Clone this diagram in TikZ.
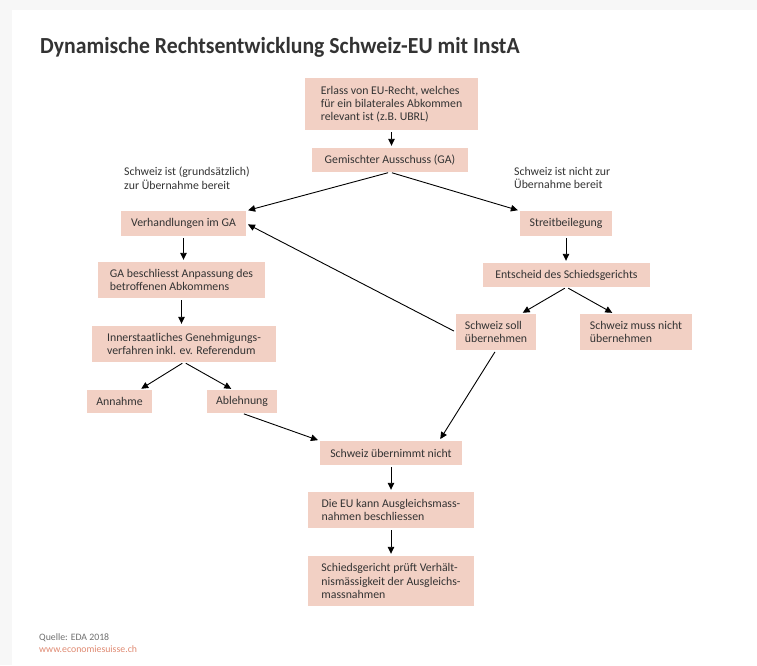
\documentclass[tikz,border=0pt]{standalone}
\usepackage{fontspec}
\setmainfont{Carlito}
\newfontfamily\titlefont[FakeStretch=0.945]{Carlito}
\usetikzlibrary{arrows.meta,calc}
\definecolor{bgc}{HTML}{F7F7F7}
\definecolor{boxc}{HTML}{F2D0C4}
\definecolor{txtc}{HTML}{333333}
\definecolor{srcc}{HTML}{707070}
\definecolor{webc}{HTML}{E08A72}
\tikzset{
  box/.style={fill=boxc, text=txtc, inner xsep=8pt, inner ysep=0pt, font=\fontsize{11.8}{13.2}\selectfont, anchor=center, align=left},
  lbl/.style={text=txtc, font=\fontsize{11.8}{13.2}\selectfont, align=left, inner sep=0pt},
  arr/.style={draw=black, line width=0.9pt, -{Triangle[width=6.5pt,length=7pt]}, shorten <=2pt, shorten >=2pt},
}
\begin{document}
\begin{tikzpicture}[x=1pt,y=-1pt]
\useasboundingbox (0,0) rectangle (757,665);
\fill[bgc] (0,0) rectangle (757,665);
\fill[white] (12,10) rectangle (757,665);
\node[anchor=base west, inner sep=0pt, text=txtc, font=\titlefont\fontsize{23}{26}\bfseries\selectfont] (title) at (40,53) {Dynamische Rechtsentwicklung Schweiz-EU mit InstA};

\node[box, minimum width=173pt, minimum height=52pt] (erlass) at (391.5,104) {Erlass von EU-Recht, welches\\für ein bilaterales Abkommen\\relevant ist (z.B. UBRL)};
\node[box, minimum width=156pt, minimum height=24pt] (ga) at (390,160) {Gemischter Ausschuss (GA)};
\node[lbl, anchor=north west] (lyes) at (124,167) {Schweiz ist (grundsätzlich)\\zur Übernahme bereit};
\node[lbl, anchor=north west] (lno) at (514,167) {Schweiz ist nicht zur\\Übernahme bereit};
\node[box, minimum width=125pt, minimum height=25pt] (verh) at (183.5,223.5) {Verhandlungen im GA};
\node[box, minimum width=92pt, minimum height=25pt] (streit) at (566,223.5) {Streitbeilegung};
\node[box, minimum width=167pt, minimum height=36pt] (gabes) at (181.5,280) {GA beschliesst Anpassung des\\betroffenen Abkommens};
\node[box, minimum width=184pt, minimum height=36pt] (inner) at (184,344) {Innerstaatliches Genehmigungs-\\verfahren inkl. ev. Referendum};
\node[box, minimum width=65pt, minimum height=23pt] (annahme) at (119.5,401.5) {Annahme};
\node[box, minimum width=70pt, minimum height=23pt] (ablehnung) at (242,401.5) {Ablehnung};
\node[box, minimum width=167pt, minimum height=24pt] (entscheid) at (566.5,275) {Entscheid des Schiedsgerichts};
\node[box, minimum width=80pt, minimum height=36pt] (soll) at (496,332) {Schweiz soll\\übernehmen};
\node[box, minimum width=112pt, minimum height=36pt] (muss) at (636,332) {Schweiz muss nicht\\übernehmen};
\node[box, minimum width=142pt, minimum height=24pt] (nicht) at (391,453) {Schweiz übernimmt nicht};
\node[box, minimum width=166pt, minimum height=36pt] (eu) at (391,510) {Die EU kann Ausgleichsmass-\\nahmen beschliessen};
\node[box, minimum width=166pt, minimum height=50pt] (schieds) at (391,581) {Schiedsgericht prüft Verhält-\\nismässigkeit der Ausgleichs-\\massnahmen};

\node[anchor=base west, inner sep=0pt, text=srcc, font=\fontsize{9.8}{11}\selectfont] (src) at (39,640) {Quelle: EDA 2018};
\node[anchor=base west, inner sep=0pt, text=webc, font=\fontsize{9.8}{11}\selectfont] (web) at (39,652) {www.economiesuisse.ch};

\draw[arr] (erlass.south) -- (erlass.south |- ga.north);
\draw[arr] (ga.south) -- (verh.north east);
\draw[arr] (ga.south) -- (streit.north west);
\draw[arr] (verh.south) -- (verh.south |- gabes.north);
\draw[arr] (gabes.south) -- (gabes.south |- inner.north);
\draw[arr] (inner.south) -- ([xshift=20pt]annahme.north);
\draw[arr] (inner.south) -- ([xshift=-9pt]ablehnung.north);
\draw[arr] (streit.south) -- (streit.south |- entscheid.north);
\draw[arr] (entscheid.south) -- ([xshift=25pt]soll.north);
\draw[arr] (entscheid.south) -- ([xshift=-22pt]muss.north);
\draw[arr] (soll.west) -- (verh.east);
\draw[arr] (soll.south) -- ([xshift=-23pt]nicht.north east);
\draw[arr] (ablehnung.south) -- (nicht.north west);
\draw[arr] (nicht.south) -- (nicht.south |- eu.north);
\draw[arr] (eu.south) -- (eu.south |- schieds.north);
\end{tikzpicture}
\end{document}
